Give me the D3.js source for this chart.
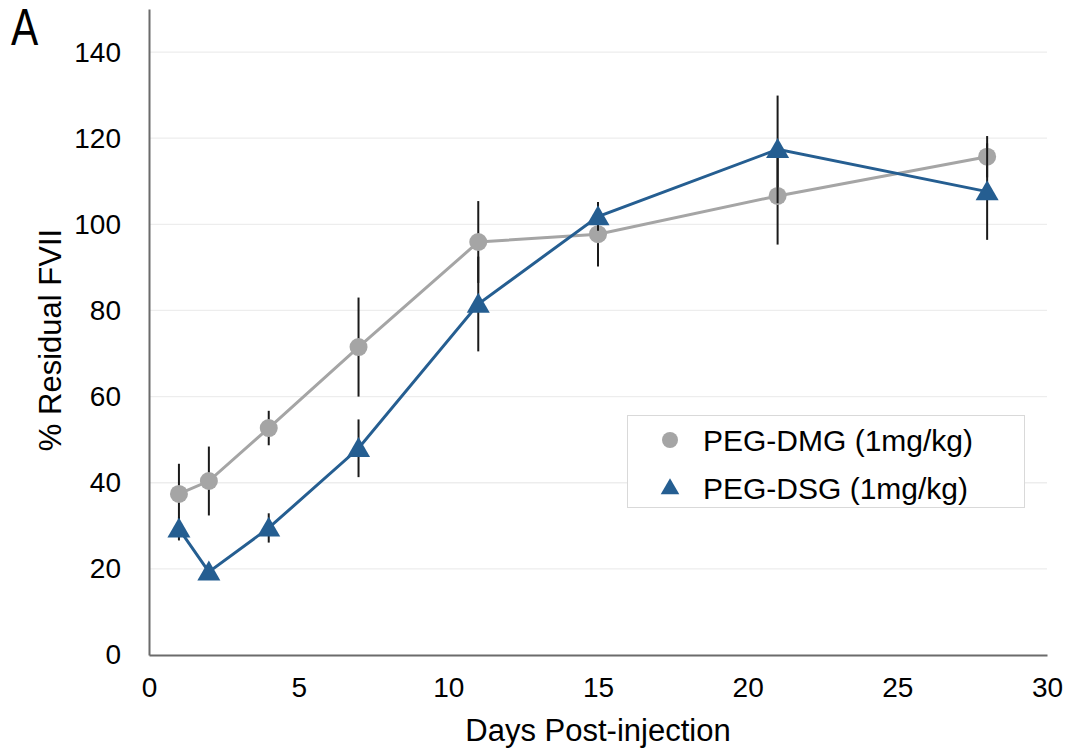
<!DOCTYPE html>
<html>
<head>
<meta charset="utf-8">
<script src="https://cdn.jsdelivr.net/npm/d3@7"></script>
<style>
  html, body { margin: 0; padding: 0; background: #fff; }
  svg { display: block; font-family: "Liberation Sans", Arial, sans-serif; }
</style>
</head>
<body>
<svg id="chart" width="1072" height="753"></svg>
<script>
// Sampling days and mean residual FVII (%) with error (±) per formulation
const days = [1, 2, 4, 7, 11, 15, 21, 28];
const dmgMean = [37.4, 40.4, 52.7, 71.5, 95.9, 97.7, 106.6, 115.7];
const dmgErr  = [7.0, 8.0, 4.0, 11.5, 9.5, 7.5, 11.3, 4.8];
const dsgMean = [29.3, 19.3, 29.5, 48.0, 81.5, 101.8, 117.4, 107.6];
const dsgErr  = [2.7, 1.0, 3.4, 6.7, 11.0, 3.3, 12.5, 11.2];
const xTicks = [0, 5, 10, 15, 20, 25, 30];
const yTicks = [0, 20, 40, 60, 80, 100, 120, 140];
const seriesNames = ["PEG-DMG (1mg/kg)", "PEG-DSG (1mg/kg)"];

const svg = d3.select("#chart");
const x = d3.scaleLinear().domain([0, 30]).range([149, 1047]);
const y = d3.scaleLinear().domain([0, 150]).range([655, 9]);

const grey = "#A5A5A5", blue = "#255E91";

// horizontal gridlines
svg.append("g").selectAll("line")
  .data(yTicks.filter(d => d > 0))
  .join("line")
  .attr("x1", x(0)).attr("x2", x(30))
  .attr("y1", d => y(d)).attr("y2", d => y(d))
  .attr("stroke", "#EDEDED").attr("stroke-width", 1.3);

// axes
const yAxis = svg.append("g").attr("transform", `translate(${x(0)},0)`)
  .call(d3.axisLeft(y).tickValues(yTicks).tickSize(0).tickPadding(28));
const xAxis = svg.append("g").attr("transform", `translate(0,${y(0)})`)
  .call(d3.axisBottom(x).tickValues(xTicks).tickSize(0).tickPadding(22));
[yAxis, xAxis].forEach(g => {
  g.select(".domain").attr("stroke", "#6b6b6b").attr("stroke-width", 2);
  g.selectAll("text").attr("font-size", 28).attr("fill", "#000")
    .attr("font-family", "'Liberation Sans', Arial, sans-serif");
});

// axis titles
svg.append("text")
  .attr("x", x(15)).attr("y", 741)
  .attr("text-anchor", "middle").attr("font-size", 31).attr("fill", "#000")
  .text("Days Post-injection");
svg.append("text")
  .attr("transform", `translate(61,${(y(0) + y(150)) / 2 + 8}) rotate(-90)`)
  .attr("text-anchor", "middle").attr("font-size", 31).attr("fill", "#000")
  .text("% Residual FVII");

// panel letter (tall, narrow)
svg.append("text")
  .attr("transform", "translate(11,45) scale(0.8,1)")
  .attr("font-size", 51).attr("fill", "#000").text("A");

const line = d3.line().x(d => x(d[0])).y(d => y(d[1]));
const tri = d3.symbol().type(d3.symbolTriangle).size(230);

function drawSeries(mean, err, color, kind) {
  const pts = days.map((d, i) => [d, mean[i], err[i]]);
  const g = svg.append("g");
  g.append("path").datum(pts).attr("d", line)
    .attr("fill", "none").attr("stroke", color).attr("stroke-width", 3);
  return { g, pts, color, kind };
}

function drawMarkers(s) {
  if (s.kind === "circle") {
    s.g.selectAll("circle").data(s.pts).join("circle")
      .attr("cx", d => x(d[0])).attr("cy", d => y(d[1])).attr("r", 9)
      .attr("fill", s.color);
  } else {
    s.g.selectAll("path.mk").data(s.pts).join("path").attr("class", "mk")
      .attr("d", tri)
      .attr("transform", d => `translate(${x(d[0])},${y(d[1]) + 2})`)
      .attr("fill", s.color);
  }
}

function drawErrors(s) {
  s.g.selectAll("line.err").data(s.pts).join("line").attr("class", "err")
    .attr("x1", d => x(d[0])).attr("x2", d => x(d[0]))
    .attr("y1", d => y(d[1] - d[2])).attr("y2", d => y(d[1] + d[2]))
    .attr("stroke", "#1a1a1a").attr("stroke-width", 2);
}

const sDmg = drawSeries(dmgMean, dmgErr, grey, "circle");
const sDsg = drawSeries(dsgMean, dsgErr, blue, "triangle");
drawErrors(sDmg); drawMarkers(sDmg);
drawErrors(sDsg); drawMarkers(sDsg);

// legend
const lg = svg.append("g");
lg.append("rect").attr("x", 627.5).attr("y", 415.5).attr("width", 397).attr("height", 92)
  .attr("fill", "#fff").attr("stroke", "#D9D9D9").attr("stroke-width", 1);
lg.append("circle").attr("cx", 670).attr("cy", 440).attr("r", 8).attr("fill", grey);
lg.append("path").attr("d", d3.symbol().type(d3.symbolTriangle).size(150))
  .attr("transform", "translate(670,489)").attr("fill", blue);
lg.selectAll("text").data(seriesNames).join("text")
  .attr("x", 703).attr("y", (d, i) => 451 + i * 48)
  .attr("font-size", 30).attr("fill", "#000").text(d => d);
</script>
</body>
</html>
